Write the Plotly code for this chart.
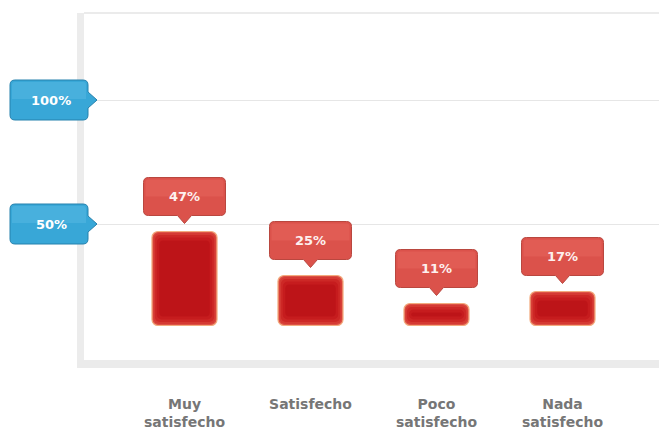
import plotly.graph_objects as go

# Survey results
categories = ["Muy<br>satisfecho", "Satisfecho", "Poco<br>satisfecho", "Nada<br>satisfecho"]
values = [47, 25, 11, 17]
value_labels = ["47%", "25%", "11%", "17%"]
grid_values = [50, 100]
grid_labels = ["50%", "100%"]

xpos = list(range(len(categories)))

W, H = 659, 432
fig = go.Figure()

# Bars: several overlaid layers give a soft glow around a deep red core
layers = [
    dict(width=0.516, inset=0.0, color="#dc5045", line="#f3ab7e", lw=1.2, r=6),
    dict(width=0.495, inset=0.8, color="#d53a33", line="rgba(0,0,0,0)", lw=0, r=6),
    dict(width=0.47, inset=1.8, color="#cd2826", line="rgba(0,0,0,0)", lw=0, r=5),
    dict(width=0.44, inset=3.0, color="#c61c1e", line="rgba(0,0,0,0)", lw=0, r=5),
    dict(width=0.40, inset=4.5, color="#bd1418", line="rgba(0,0,0,0)", lw=0, r=4),
]
for L in layers:
    fig.add_trace(go.Bar(
        x=xpos,
        y=[max(v - 2 * L["inset"], 0.5) for v in values],
        base=[L["inset"]] * len(values),
        width=L["width"],
        marker=dict(color=L["color"], line=dict(color=L["line"], width=L["lw"]),
                    cornerradius=L["r"]),
        yaxis="y2",
        hoverinfo="skip",
        showlegend=False,
    ))

shapes = []
annotations = []

# Frame top edge
shapes.append(dict(type="line", xref="paper", yref="paper", x0=0, x1=1, y0=1, y1=1,
                   line=dict(color="#e4e4e4", width=1.5), layer="below"))

# Value callouts above each bar
callout = ("M -36,16 L -7,16 L 0,8 L 7,16 L 36,16 Q 41,16 41,21 L 41,49 "
           "Q 41,54 36,54 L -36,54 Q -41,54 -41,49 L -41,21 Q -41,16 -36,16 Z")
callout_hi = ("M -39,35 L 39,35 L 39,49 Q 39,52 36,52 L -36,52 Q -39,52 -39,49 Z")
for x, v, lab in zip(xpos, values, value_labels):
    shapes.append(dict(type="path", xref="x", yref="y2", xsizemode="pixel", ysizemode="pixel",
                       xanchor=x, yanchor=v, path=callout,
                       fillcolor="#db524b", line=dict(color="#b9473f", width=1)))
    shapes.append(dict(type="path", xref="x", yref="y2", xsizemode="pixel", ysizemode="pixel",
                       xanchor=x, yanchor=v, path=callout_hi,
                       fillcolor="rgba(255,140,130,0.18)", line=dict(width=0)))
    annotations.append(dict(x=x, y=v, xref="x", yref="y2", text=lab, showarrow=False,
                            xanchor="center", yanchor="middle", yshift=35,
                            font=dict(family="DejaVu Sans", size=13, color="#fdf0ef",
                                      weight="bold")))

# Axis value tags on the left
tag = ("M -69,20 L -1,20 Q 4,20 4,15 L 4,8 L 13,0 L 4,-8 L 4,-15 Q 4,-20 -1,-20 "
       "L -69,-20 Q -74,-20 -74,-15 L -74,15 Q -74,20 -69,20 Z")
tag_hi = "M -72,1 L 2,1 L 2,15 Q 2,18 -1,18 L -69,18 Q -72,18 -72,15 Z"
for gv, gl in zip(grid_values, grid_labels):
    shapes.append(dict(type="path", xref="paper", yref="y", xsizemode="pixel", ysizemode="pixel",
                       xanchor=0, yanchor=gv, path=tag,
                       fillcolor="#38a7d7", line=dict(color="#2581ad", width=1)))
    shapes.append(dict(type="path", xref="paper", yref="y", xsizemode="pixel", ysizemode="pixel",
                       xanchor=0, yanchor=gv, path=tag_hi,
                       fillcolor="rgba(140,215,245,0.2)", line=dict(width=0)))
    annotations.append(dict(x=0, y=gv, xref="paper", yref="y", text=gl, showarrow=False,
                            xanchor="center", yanchor="middle", xshift=-33,
                            font=dict(family="DejaVu Sans", size=13, color="#ffffff",
                                      weight="bold")))

fig.update_layout(
    width=W, height=H,
    margin=dict(l=84, r=0, t=13, b=72),
    paper_bgcolor="#ffffff",
    plot_bgcolor="#ffffff",
    barmode="overlay",
    showlegend=False,
    xaxis=dict(
        range=[-0.7976, 3.7659],
        tickvals=xpos, ticktext=categories,
        showgrid=False, zeroline=False,
        showline=True, linecolor="#ebebeb", linewidth=8,
        ticks="", ticklabelstandoff=24,
        tickfont=dict(family="DejaVu Sans", size=14, color="#767676", weight="bold"),
        fixedrange=True,
    ),
    yaxis=dict(
        range=[-4.84, 135.08],
        tickvals=grid_values, ticktext=grid_labels,
        showticklabels=False, ticks="",
        showgrid=True, gridcolor="#e6e6e6", gridwidth=1,
        zeroline=False,
        showline=True, linecolor="#ececec", linewidth=7,
        fixedrange=True,
    ),
    yaxis2=dict(
        range=[-17.25, 156.25],
        overlaying="y", visible=False, fixedrange=True,
    ),
    shapes=shapes,
    annotations=annotations,
)

fig.write_html("out.html")
